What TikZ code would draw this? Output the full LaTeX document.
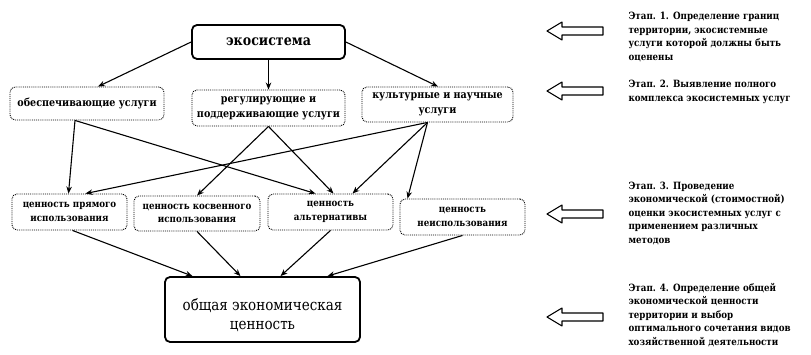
\documentclass[tikz,border=0pt]{standalone}
\usepackage{fontspec}
\setmainfont{DejaVu Serif}[FakeStretch=0.87]
\usetikzlibrary{arrows.meta, calc}
\tikzset{
    schema/.style={>={Stealth[length=7pt, width=5.5pt]}, x=1pt, y=-1pt, line width=1.1pt},
    mainbox/.style={draw, line width=1.8pt, rounded corners=5pt, align=center, font=\fontsize{15.5}{20}\selectfont},
    servicebox/.style={draw, densely dotted, line width=0.9pt, rounded corners=5pt, align=center, font=\fontsize{11}{15}\selectfont\bfseries},
    valuebox/.style={servicebox, font=\fontsize{10}{13.5}\selectfont\bfseries},
    stagetext/.style={anchor=north west, inner sep=0pt, align=left, font=\fontsize{10}{13.5}\selectfont\bfseries},
    % hollow arrow pointing from a stage back to the scheme
    stagearrow/.style={draw, line width=1.1pt, line join=round},
}

\begin{document}
\begin{tikzpicture}[schema]
    \useasboundingbox (0,0) rectangle (811,355);

    \node[mainbox, font=\fontsize{14.5}{18}\selectfont\bfseries, minimum width=153pt, minimum height=34pt] (eco) at (268.5,42) {экосистема};

    \node[servicebox, minimum width=154pt, minimum height=33pt] (prov) at (87,103.5) {обеспечивающие услуги};
    \node[servicebox, minimum width=153pt, minimum height=36pt] (reg)  at (268.5,108) {регулирующие и\\поддерживающие услуги};
    \node[servicebox, minimum width=151pt, minimum height=35pt] (cult) at (437.5,104.5) {культурные и научные\\услуги};

    \node[valuebox, minimum width=115pt, minimum height=36pt] (direct)   at (69.5,212)  {ценность прямого\\использования};
    \node[valuebox, minimum width=126pt, minimum height=35pt] (indirect) at (197,213.5) {ценность косвенного\\использования};
    \node[valuebox, minimum width=125pt, minimum height=36pt] (alt)      at (330.5,212) {ценность\\альтернативы};
    \node[valuebox, minimum width=125pt, minimum height=36pt] (nonuse)   at (462.5,217) {ценность\\неиспользования};

    \node[mainbox, text height=44pt, text depth=3pt, minimum width=195pt, minimum height=65pt] (total) at (262.5,309.5) {общая экономическая\\ценность};

    \draw[->] (eco.west) -- ([xshift=11pt]prov.north);
    \draw[->] (eco) -- (reg);
    \draw[->] (eco.east) -- ([xshift=0.5pt]cult.north);

    \draw[->] ([xshift=-12pt]prov.south) -- ([xshift=-1pt]direct.north);
    \draw[->] ([xshift=-12pt]prov.south) -- ([xshift=-15pt]alt.north);
    \draw[->] (reg.south) -- (indirect.north);
    \draw[->] (reg.south) -- ([xshift=3pt]alt.north);
    \draw[->] ([xshift=-10pt]cult.south) -- ([xshift=16pt]direct.north);
    \draw[->] ([xshift=-10pt]cult.south) -- ([xshift=22pt]alt.north);
    \draw[->] ([xshift=-10pt]cult.south) -- ([xshift=-55pt]nonuse.north);

    \draw[->] ([xshift=3pt]direct.south) -- ([xshift=-70pt]total.north);
    \draw[->] (indirect.south) -- ([xshift=-22pt]total.north);
    \draw[->] (alt.south) -- ([xshift=18pt]total.north);
    \draw[->] (nonuse.south) -- ([xshift=65pt]total.north);

    \foreach \y in {31,91,214,317}
        \draw[stagearrow] (603,\y-4) -- (562,\y-4) -- (562,\y-9) -- (547,\y)
            -- (562,\y+9) -- (562,\y+4) -- (603,\y+4) -- cycle;

    \node[stagetext] (stage1) at (628,12) {Этап. 1. Определение границ\\территории, экосистемные\\услуги которой должны быть\\оценены};
    \node[stagetext] (stage2) at (628,80) {Этап. 2. Выявление полного\\комплекса экосистемных услуг};
    \node[stagetext] (stage3) at (628,181.5) {Этап. 3. Проведение\\экономической (стоимостной)\\оценки экосистемных услуг с\\применением различных\\методов};
    \node[stagetext] (stage4) at (628,282.5) {Этап. 4. Определение общей\\экономической ценности\\территории и выбор\\оптимального сочетания видов\\хозяйственной деятельности};
\end{tikzpicture}
\end{document}
